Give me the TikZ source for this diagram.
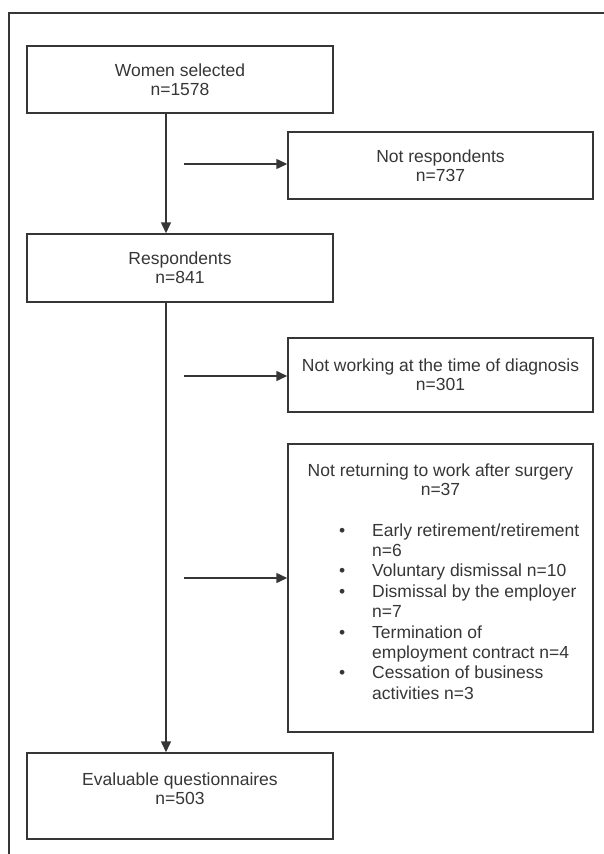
\documentclass[tikz,border=0pt]{standalone}
\usepackage{fontspec}
\setmainfont{Liberation Sans}
\usetikzlibrary{arrows.meta}
\definecolor{ink}{HTML}{363636}
\begin{document}
\begin{tikzpicture}[x=1pt,y=-1pt,
  every node/.style={font=\fontsize{17.5}{19}\selectfont, text=ink},
  box/.style={draw=ink, line width=1.5pt, rectangle, inner sep=0pt, align=center},
  arr/.style={draw=ink, line width=1.5pt, -{Triangle[length=11pt,width=10pt]}},
  frameline/.style={draw=ink, line width=1.4pt}]
\useasboundingbox (0,0) rectangle (603,854);
\draw[frameline] (9,856) -- (9,13) -- (605,13);

\node[box, minimum width=306pt, minimum height=67pt] (ws) at (180,79.5) {Women selected\\n=1578};
\node[box, minimum width=305pt, minimum height=67pt] (nresp) at (440.5,165.5) {Not respondents\\n=737};
\node[box, minimum width=306pt, minimum height=68pt] (resp) at (180,268) {Respondents\\n=841};
\node[box, minimum width=305pt, minimum height=74pt] (nwork) at (440.5,375) {Not working at the time of diagnosis\\n=301};
\node[box, minimum width=305pt, minimum height=288pt] (nret) at (440.5,588) {};
\node[box, minimum width=306pt, minimum height=86pt] (ev) at (180,796) {};

\node[align=center, inner sep=0pt] (nrettitle) at (440.5,480) {Not returning to work after surgery\\n=37};
\node[anchor=base west, inner sep=0pt] (nretlist) at (339,536) {\fontsize{17.5}{20.4}\selectfont
\begin{tabular}[t]{@{}l@{}l@{}}
\makebox[33pt][l]{\textbullet} & Early retirement/retirement\\
 & n=6\\
\textbullet & Voluntary dismissal n=10\\
\textbullet & Dismissal by the employer\\
 & n=7\\
\textbullet & Termination of\\
 & employment contract n=4\\
\textbullet & Cessation of business\\
 & activities n=3
\end{tabular}};
\node[align=center, inner sep=0pt] (evtext) at (180,789) {Evaluable questionnaires\\n=503};

\coordinate (vx) at (166,0);
\coordinate (h1) at (184,164);
\coordinate (h2) at (184,376);
\coordinate (h3) at (184,578);

\draw[arr] (ws.south -| vx) -- (resp.north -| vx);
\draw[arr] (resp.south -| vx) -- (ev.north -| vx);
\draw[arr] (h1) -- (h1 -| nresp.west);
\draw[arr] (h2) -- (h2 -| nwork.west);
\draw[arr] (h3) -- (h3 -| nret.west);
\end{tikzpicture}
\end{document}
